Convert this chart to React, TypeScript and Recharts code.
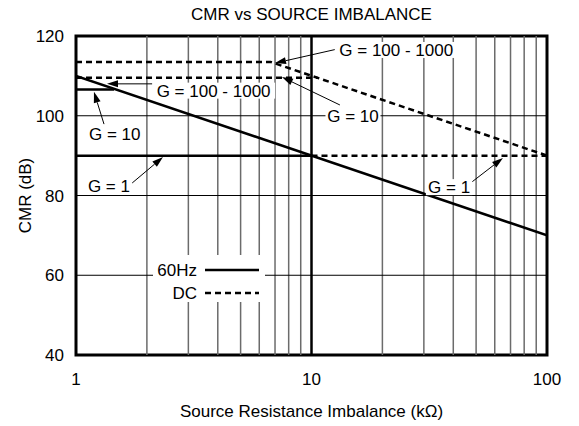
import { Legend, Line, LineChart, ReferenceArea, ReferenceDot, ReferenceLine, XAxis, YAxis } from "recharts";

// source resistance imbalance (kΩ) vs CMR (dB)
const hz60All = [{ r: 1, cmr: 110 }, { r: 100, cmr: 70 }];
const hz60G10 = [{ r: 1, cmr: 106.6 }, { r: 1.45, cmr: 106.6 }];
const hz60G1 = [{ r: 1, cmr: 90 }, { r: 10, cmr: 90 }];
const dcG100 = [{ r: 1, cmr: 113.5 }, { r: 6.7, cmr: 113.5 }, { r: 100, cmr: 90 }];
const dcG10 = [{ r: 1, cmr: 109.5 }, { r: 10.6, cmr: 109.5 }];
const dcG1 = [{ r: 10, cmr: 90 }, { r: 100, cmr: 90 }];

const X_TICKS = [1, 10, 100];
const Y_TICKS = [40, 60, 80, 100, 120];
const MINOR_X = [2, 3, 4, 5, 6, 7, 8, 9, 20, 30, 40, 50, 60, 70, 80, 90];
const MAJOR_Y = [60, 80, 100];

// text callouts: label, label centre, leader start, arrow tip
const CALLOUTS = [
  { text: "G = 100 - 1000", at: [22.9, 116.5], from: [12.8, 116.7], to: [7.0, 113.2] },
  { text: "G = 100 - 1000", at: [3.84, 106.3], from: [2.23, 108.0], to: [1.354, 108.0] },
  { text: "G = 10", at: [1.46, 95.4], from: [1.315, 97.9], to: [1.192, 106.0] },
  { text: "G = 1", at: [1.38, 82.4], from: [1.729, 83.1], to: [2.342, 89.65] },
  { text: "G = 10", at: [15.0, 100], from: [13.2, 102.7], to: [7.49, 109.7] },
  { text: "G = 1", at: [38.4, 82.1], from: [48.0, 83.4], to: [65.0, 89.4] },
];

const LEGEND_ITEMS = [
  { name: "60Hz", dash: undefined },
  { name: "DC", dash: "6 4" },
];

const FONT = "'Liberation Sans', Arial, Helvetica, sans-serif";
const FS = 17;

function Arrow(p: any) {
  const { x1, y1, x2, y2 } = p;
  const a = Math.atan2(y2 - y1, x2 - x1);
  const L = 11, W = 3.5;
  const bx = x2 - L * Math.cos(a), by = y2 - L * Math.sin(a);
  const nx = -Math.sin(a) * W, ny = Math.cos(a) * W;
  return (
    <g>
      <line x1={x1} y1={y1} x2={bx} y2={by} stroke="#000" strokeWidth={1} />
      <polygon points={`${x2},${y2} ${bx + nx},${by + ny} ${bx - nx},${by - ny}`} fill="#000" />
    </g>
  );
}

function tag(text: string) {
  return (p: any) => {
    const w = text.length * FS * 0.5 + 4;
    return (
      <g>
        <rect x={p.cx - w / 2} y={p.cy - 8} width={w} height={16} fill="#fff" />
        <text x={p.cx} y={p.cy} dy="0.35em" textAnchor="middle" fontSize={FS} fill="#000" fontFamily={FONT}>
          {text}
        </text>
      </g>
    );
  };
}

function LegendBox() {
  return (
    <svg width={112} height={47} style={{ display: "block", background: "#fff" }}>
      {LEGEND_ITEMS.map((it, i) => (
        <g key={it.name}>
          <text x={44} y={15 + i * 23} dy="0.35em" textAnchor="end" fontSize={FS} fontFamily={FONT} fill="#000">
            {it.name}
          </text>
          <line x1={52} x2={106} y1={15 + i * 23} y2={15 + i * 23} stroke="#000" strokeWidth={2.5} strokeDasharray={it.dash} />
        </g>
      ))}
    </svg>
  );
}

export default function App() {
  const lineProps = { type: "linear" as const, dataKey: "cmr", stroke: "#000", strokeWidth: 2.5, dot: false, isAnimationActive: false, legendType: "none" as const };
  return (
    <div style={{ position: "absolute", left: 0, top: 0, width: 579, height: 426, background: "#fff", fontFamily: FONT }}>
      <div style={{ position: "absolute", left: 76, width: 471, top: 5, textAlign: "center", fontSize: FS, lineHeight: "20px", color: "#000" }}>
        CMR vs SOURCE IMBALANCE
      </div>
      <LineChart width={579} height={426} margin={{ top: 36, right: 32, bottom: 0, left: 0 }} style={{ fontFamily: FONT }}>
        <XAxis
          type="number"
          dataKey="r"
          scale="log"
          domain={[1, 100]}
          ticks={X_TICKS}
          allowDataOverflow
          axisLine={false}
          tickLine={false}
          tickSize={16}
          tickMargin={2}
          height={71}
          tick={{ fill: "#000", fontSize: FS }}
          label={{ value: "Source Resistance Imbalance (kΩ)", position: "insideBottom", offset: 9, fill: "#000", fontSize: FS }}
        />
        <YAxis
          type="number"
          domain={[40, 120]}
          ticks={Y_TICKS}
          allowDataOverflow
          axisLine={false}
          tickLine={false}
          tickSize={10}
          tickMargin={2}
          width={76}
          tick={{ fill: "#000", fontSize: FS }}
          label={{ value: "CMR (dB)", angle: -90, position: "insideLeft", offset: 25, fill: "#000", fontSize: FS, style: { textAnchor: "middle" } }}
        />
        {MINOR_X.map((x) => (
          <ReferenceLine key={`vx${x}`} x={x} stroke="#6b6b6b" strokeWidth={1.5} />
        ))}
        {MAJOR_Y.map((y) => (
          <ReferenceLine key={`hy${y}`} y={y} stroke="#000" strokeWidth={1} />
        ))}
        <ReferenceLine x={10} stroke="#000" strokeWidth={2.5} />
        <ReferenceArea x1={1} x2={100} y1={40} y2={120} fill="none" fillOpacity={0} stroke="#000" strokeWidth={3} />

        <Line {...lineProps} data={hz60All} />
        <Line {...lineProps} data={hz60G10} />
        <Line {...lineProps} data={hz60G1} />
        <Line {...lineProps} data={dcG100} strokeDasharray="6 4" />
        <Line {...lineProps} data={dcG10} strokeDasharray="6 4" />
        <Line {...lineProps} data={dcG1} strokeDasharray="6 4" />

        {CALLOUTS.map((c, i) => (
          <ReferenceLine
            key={`ar${i}`}
            segment={[{ x: c.from[0], y: c.from[1] }, { x: c.to[0], y: c.to[1] }]}
            shape={Arrow}
          />
        ))}
        {CALLOUTS.map((c, i) => (
          <ReferenceDot key={`tg${i}`} x={c.at[0]} y={c.at[1]} r={0} shape={tag(c.text)} />
        ))}
        <Legend
          layout="vertical"
          align="center"
          verticalAlign="middle"
          content={() => <LegendBox />}
          wrapperStyle={{ left: 153, top: 255, width: 112, height: 47 }}
        />
      </LineChart>
    </div>
  );
}
